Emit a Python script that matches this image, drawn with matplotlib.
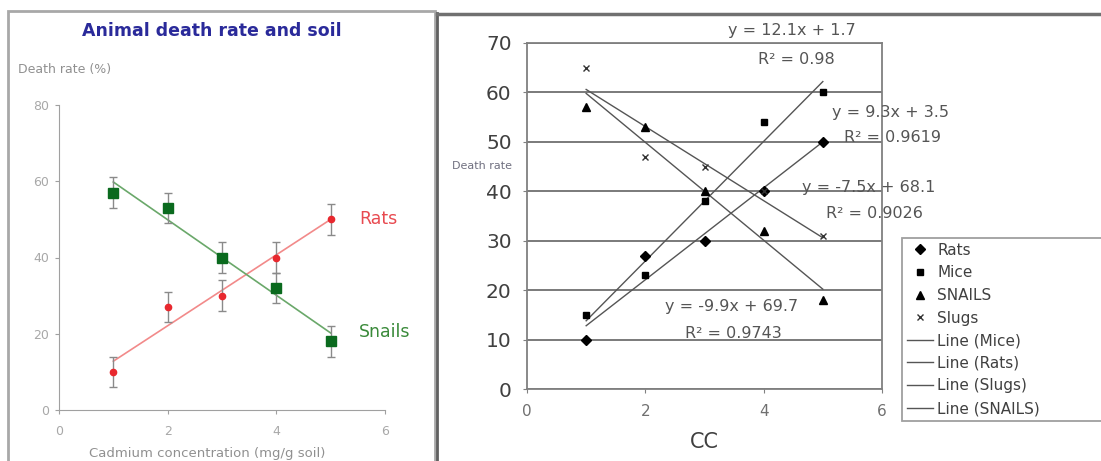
import numpy as np
import matplotlib
matplotlib.use('Agg')
import matplotlib.pyplot as plt
from matplotlib.patches import Rectangle
from matplotlib.lines import Line2D

### data
conc = [1, 2, 3, 4, 5]
rats = [10, 27, 30, 40, 50]
mice = [15, 23, 38, 54, 60]
snails = [57, 53, 40, 32, 18]
slugs = [65, 47, 45, 40, 31]
err = [4, 4, 4, 4, 4]

# trendline coefficients as printed on the chart (slope, intercept, r2)
fit_rats = (9.3, 3.5, '0.9619')
fit_mice = (12.1, 1.7, '0.98')
fit_snails = (-9.9, 69.7, '0.9743')
fit_slugs = (-7.5, 68.1, '0.9026')

W, H = 1101, 461
fig = plt.figure(figsize=(W / 100, H / 100), dpi=100)


def fx(px):
    return px / W


def fy(py):
    return 1 - py / H


### panel frames
fig.patches.append(Rectangle((fx(8), fy(470)), fx(427), fy(11) - fy(470),
                             transform=fig.transFigure, fill=False,
                             edgecolor='#a8a8a8', lw=2))
fig.add_artist(Line2D([fx(437), fx(437)], [fy(13), 0], color='#606060', lw=2,
                      transform=fig.transFigure))
fig.add_artist(Line2D([fx(437), 1], [fy(14), fy(14)], color='#707070', lw=2.5,
                      transform=fig.transFigure))

### 1. left chart
axl = fig.add_axes([fx(59), fy(410), fx(385 - 59), fy(105) - fy(410)])
xs = np.array([1, 5])
axl.plot(xs, fit_rats[0] * xs + fit_rats[1], color='#f28a8a', lw=1.2)
axl.plot(xs, fit_snails[0] * xs + fit_snails[1], color='#6aa86a', lw=1.2)
axl.errorbar(conc, rats, yerr=err, fmt='o', color='#e8282e', ms=4.5,
             ecolor='#8a8a8a', elinewidth=1, capsize=3, zorder=3)
axl.errorbar(conc, snails, yerr=err, fmt='s', color='#0a6a1e', ms=7,
             ecolor='#8a8a8a', elinewidth=1, capsize=3, zorder=3)
axl.set_xlim(0, 6)
axl.set_ylim(0, 80)
axl.set_xticks([0, 2, 4, 6])
axl.set_yticks([0, 20, 40, 60, 80])
for s in ['top', 'right']:
    axl.spines[s].set_visible(False)
for s in ['left', 'bottom']:
    axl.spines[s].set_color('#a0a0a0')
axl.tick_params(colors='#a0a0a0', labelsize=9, length=3, labelcolor='#a8a8a8')
axl.tick_params(axis='x', pad=8)
axl.tick_params(axis='y', pad=4)
axl.text(5.52, 50, 'Rats', color='#e84a50', fontsize=12.5, va='center')
axl.text(5.52, 20.5, 'Snails', color='#3a8a3a', fontsize=12.5, va='center')

fig.text(fx(212), fy(31), 'Animal death rate and soil', ha='center', va='center',
         fontsize=12.5, fontweight='bold', color='#2a2a9a')
fig.text(fx(18), fy(69), 'Death rate (%)', ha='left', va='center',
         fontsize=9, color='#909090')
fig.text(fx(207), fy(453), 'Cadmium concentration (mg/g soil)', ha='center',
         va='center', fontsize=9.5, color='#909090')

### 2. right chart
axr = fig.add_axes([fx(527), fy(389), fx(882 - 527), fy(43) - fy(389)])
line_col = '#555555'
xs = np.array([1, 5])
for name, (m, b, r2) in [('Mice', fit_mice), ('Rats', fit_rats),
                         ('Slugs', fit_slugs), ('SNAILS', fit_snails)]:
    axr.plot(xs, m * xs + b, color=line_col, lw=1, label=f'Line ({name})')
h_rats, = axr.plot(conc, rats, 'D', color='black', ms=5, ls='none', label='Rats')
h_mice, = axr.plot(conc, mice, 's', color='black', ms=5, ls='none', label='Mice')
h_sn, = axr.plot(conc, snails, '^', color='black', ms=6, ls='none', label='SNAILS')
h_sl, = axr.plot(conc, slugs, 'x', color='#333333', ms=5, mew=1, ls='none', label='Slugs')

axr.set_xlim(0, 6)
axr.set_ylim(0, 70)
axr.set_xticks([0, 2, 4, 6])
axr.set_yticks(range(0, 71, 10))
axr.yaxis.grid(True, color='#707070', lw=1.3)
axr.set_axisbelow(True)
for s in axr.spines.values():
    s.set_color('#808080')
    s.set_linewidth(1.3)
axr.tick_params(axis='y', labelsize=14.5, labelcolor='#404040', color='#808080',
                length=3, pad=8)
axr.tick_params(axis='x', labelsize=11, labelcolor='#707070', color='#808080',
                length=3, pad=8)
axr.set_xlabel('CC', fontsize=15, color='#404040', labelpad=9)
fig.text(fx(482), fy(166), 'Death rate', ha='center', va='center',
         fontsize=8, color='#707080')

eq_kw = dict(ha='center', va='center', fontsize=11.5, color='#555555', clip_on=False)
eq_pos = [(fit_mice, 4.48, 72.6, 4.55, 66.6),
          (fit_rats, 6.14, 56.0, 6.17, 50.8),
          (fit_slugs, 5.78, 40.7, 5.88, 35.6),
          (fit_snails, 3.46, 16.6, 3.48, 11.3)]
for (m, b, r2), x1, y1, x2, y2 in eq_pos:
    sign = '+' if b >= 0 else '-'
    axr.text(x1, y1, f'y = {m}x {sign} {abs(b)}', **eq_kw)
    axr.text(x2, y2, f'R² = {r2}', **eq_kw)

handles = [h_rats, h_mice, h_sn, h_sl] + axr.lines[:4]
labels = ['Rats', 'Mice', 'SNAILS', 'Slugs', 'Line (Mice)', 'Line (Rats)',
          'Line (Slugs)', 'Line (SNAILS)']
leg = fig.legend(handles, labels, loc='upper left',
                 bbox_to_anchor=(fx(902), fy(421), fx(1120 - 902), fy(238) - fy(421)),
                 mode='expand', fontsize=11, frameon=True, fancybox=False,
                 borderaxespad=0, handlelength=1.7, labelspacing=0.5,
                 borderpad=0.3, handletextpad=0.3)
leg.get_frame().set_edgecolor('#888888')
leg.get_frame().set_linewidth(1.3)
for t in leg.get_texts():
    t.set_color('#404040')

plt.savefig('out.png', dpi=100)
plt.close()
